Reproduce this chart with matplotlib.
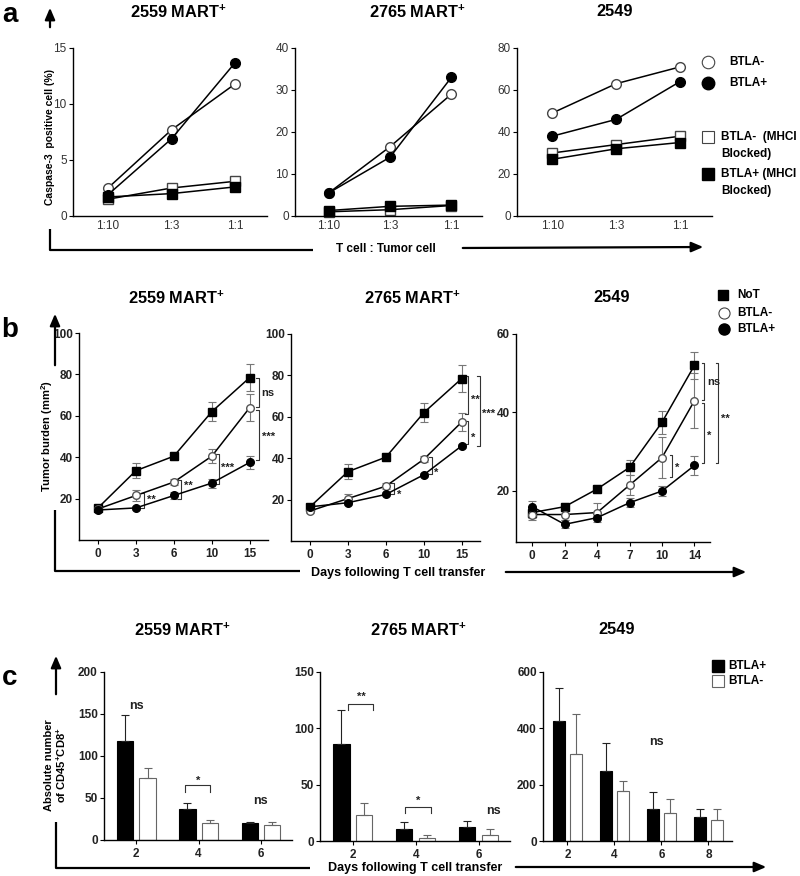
import matplotlib.pyplot as plt
import numpy as np

plt.rcParams["font.family"] = ["Liberation Sans", "DejaVu Sans"]
plt.rcParams["mathtext.fontset"] = "custom"
plt.rcParams["mathtext.rm"] = "Liberation Sans"
plt.rcParams["mathtext.bf"] = "Liberation Sans:bold"
plt.rcParams["axes.linewidth"] = 1.0

W, H = 800, 876
TICK_FONT = ["Liberation Sans Narrow", "Liberation Sans", "DejaVu Sans"]

# ---- panel a: caspase-3 positive cells vs T cell : tumor cell ratio
ratios = ["1:10", "1:3", "1:1"]
a2559_neg = [2.5, 7.7, 11.8]
a2559_pos = [1.9, 6.9, 13.7]
a2559_neg_blk = [1.5, 2.5, 3.1]
a2559_pos_blk = [1.7, 2.0, 2.6]
a2765_neg = [5.5, 16.5, 29.0]
a2765_pos = [5.5, 14.0, 33.0]
a2765_neg_blk = [1.0, 1.5, 2.5]
a2765_pos_blk = [1.3, 2.3, 2.6]
a2549_neg = [49, 63, 71]
a2549_pos = [38, 46, 64]
a2549_neg_blk = [30, 34, 38]
a2549_pos_blk = [27, 32, 35]

# ---- panel b: tumor burden (mm2)
b_days_mart = ["0", "3", "6", "10", "15"]
b_days_2549 = ["0", "2", "4", "7", "10", "14"]
b2559_not = [15.5, 33.5, 40.5, 62.0, 78.5]
b2559_not_err = [0.8, 3.5, 2.0, 4.5, 6.5]
b2559_neg = [15.0, 21.5, 28.0, 40.5, 64.0]
b2559_neg_err = [1.0, 2.5, 1.5, 3.5, 6.5]
b2559_pos = [14.5, 15.5, 21.5, 27.5, 37.5]
b2559_pos_err = [1.0, 1.0, 1.5, 2.2, 3.0]
b2765_not = [16.5, 33.5, 40.5, 62.0, 78.5]
b2765_not_err = [1.0, 3.5, 2.0, 4.5, 6.5]
b2765_neg = [14.5, 20.5, 26.5, 39.5, 57.5]
b2765_neg_err = [1.0, 2.0, 1.5, 1.5, 4.5]
b2765_pos = [16.5, 18.5, 22.5, 32.0, 46.0]
b2765_pos_err = [1.0, 1.0, 1.0, 1.0, 1.0]
b2549_not = [14.5, 16.0, 20.5, 26.0, 37.5, 52.0]
b2549_not_err = [1.5, 1.0, 1.0, 2.0, 3.0, 3.5]
b2549_neg = [14.0, 14.0, 14.5, 21.5, 28.5, 43.0]
b2549_neg_err = [1.5, 1.5, 2.5, 2.5, 5.2, 7.0]
b2549_pos = [16.0, 11.5, 13.2, 17.0, 20.0, 26.5]
b2549_pos_err = [1.5, 1.0, 0.5, 1.2, 1.2, 2.5]

# ---- panel c: absolute number of CD45+CD8+
c_days_mart = ["2", "4", "6"]
c_days_2549 = ["2", "4", "6", "8"]
c2559_pos = [118, 37, 20]
c2559_pos_err = [31, 7, 1.5]
c2559_neg = [74, 20, 18]
c2559_neg_err = [12, 4, 3.5]
c2765_pos = [86, 11, 12]
c2765_pos_err = [30, 6, 5.5]
c2765_neg = [23, 3, 5]
c2765_neg_err = [11, 2.5, 6]
c2549_pos = [425, 248, 115, 85]
c2549_pos_err = [118, 100, 58, 30]
c2549_neg = [310, 178, 100, 73]
c2549_neg_err = [140, 36, 50, 40]

fig = plt.figure(figsize=(W / 100, H / 100), dpi=100)


def px_axes(x0, x1, y0, y1):
    return fig.add_axes([x0 / W, 1 - y1 / H, (x1 - x0) / W, (y1 - y0) / H])


def style_axes(ax, weight, color, xtick_len):
    ax.spines[["top", "right"]].set_visible(False)
    ax.patch.set_visible(False)
    ax.tick_params(axis="y", direction="out", length=3, width=0.8,
                   labelsize=8.5, pad=1.5, labelcolor=color)
    ax.tick_params(axis="x", direction="out", length=xtick_len, width=0.8,
                   labelsize=8.5, pad=3, labelcolor=color)
    for lab in ax.get_xticklabels() + ax.get_yticklabels():
        lab.set_fontweight(weight)
        lab.set_family(TICK_FONT)


# panel a
a_axes = [px_axes(73, 267, 48, 216), px_axes(295, 482, 48, 216), px_axes(517, 712, 48, 216)]
a_sets = [
    (a2559_neg, a2559_pos, a2559_neg_blk, a2559_pos_blk, 15, 5),
    (a2765_neg, a2765_pos, a2765_neg_blk, a2765_pos_blk, 40, 10),
    (a2549_neg, a2549_pos, a2549_neg_blk, a2549_pos_blk, 80, 20),
]
for ax, (neg, pos, negb, posb, ymax, step) in zip(a_axes, a_sets):
    x = np.arange(len(ratios))
    ax.plot(x, negb, "-s", color="k", mfc="white", mec="#444", ms=6.5, lw=1.1, clip_on=False)
    ax.plot(x, posb, "-s", color="k", mfc="k", mec="k", ms=6.5, lw=1.1, clip_on=False)
    ax.plot(x, neg, "-o", color="k", mfc="white", mec="#444", ms=7, lw=1.1, clip_on=False)
    ax.plot(x, pos, "-o", color="k", mfc="k", mec="k", ms=7, lw=1.1, clip_on=False)
    ax.set_xlim(-0.55, 2.5)
    ax.set_ylim(0, ymax)
    ax.set_yticks(np.arange(0, ymax + 1, step))
    ax.set_xticks(x, ratios)
    style_axes(ax, "normal", "#333", 0)

# panel b
b_axes = [px_axes(79, 268, 333, 540), px_axes(291, 480, 334, 541), px_axes(516, 710, 334, 542)]
b_sets = [
    (b_days_mart, (b2559_not, b2559_not_err), (b2559_neg, b2559_neg_err), (b2559_pos, b2559_pos_err),
     (0, 100), [20, 40, 60, 80, 100]),
    (b_days_mart, (b2765_not, b2765_not_err), (b2765_neg, b2765_neg_err), (b2765_pos, b2765_pos_err),
     (0, 100), [20, 40, 60, 80, 100]),
    (b_days_2549, (b2549_not, b2549_not_err), (b2549_neg, b2549_neg_err), (b2549_pos, b2549_pos_err),
     (7, 60), [20, 40, 60]),
]
# significance brackets: (x, y top, y bottom, label, label y)
b_brackets = [
    [(1.21, 22.6, 15.4, "**", 19.5), (2.20, 28.9, 19.7, "**", 26.0), (3.18, 41.4, 27.0, "***", 35.0),
     (4.24, 78.5, 64.3, "ns", 71.0), (4.24, 62.6, 38.5, "***", 50.0)],
    [(2.21, 28.0, 22.7, "*", 22.5), (3.21, 40.6, 32.4, "*", 33.0), (4.16, 79.7, 61.3, "**", 68.0),
     (4.16, 58.0, 46.9, "*", 50.0), (4.47, 79.7, 45.9, "***", 61.5)],
    [(4.32, 29.2, 23.6, "*", 26.0), (5.31, 52.6, 43.2, "ns", 47.7), (5.31, 42.4, 27.1, "*", 34.0),
     (5.74, 52.6, 27.1, "**", 38.3)],
]
for ax, (days, s_not, s_neg, s_pos, ylim, yticks), brks in zip(b_axes, b_sets, b_brackets):
    x = np.arange(len(days))
    for (vals, err), marker, mfc, mec in [(s_not, "s", "k", "k"), (s_neg, "o", "white", "#555"),
                                          (s_pos, "o", "k", "k")]:
        ax.errorbar(x, vals, yerr=err, fmt="-" + marker, color="k", mfc=mfc, mec=mec, ms=5.5,
                    lw=1.1, ecolor="#777", elinewidth=0.8, capsize=3, capthick=0.8)
    for bx, y0, y1, lab, ly in brks:
        ax.plot([bx - 0.08, bx, bx, bx - 0.08], [y0, y0, y1, y1], color="#333", lw=0.8, clip_on=False)
        ax.text(bx + 0.07, ly, lab, ha="left", va="center", fontsize=8, fontweight="bold", color="#222")
    ax.set_xlim(-0.5, len(days) - 0.52)
    ax.set_ylim(*ylim)
    ax.set_yticks(yticks)
    ax.set_xticks(x, days)
    style_axes(ax, "bold", "#222", 3)

# panel c
c_axes = [px_axes(104, 292, 672, 840), px_axes(320, 510, 672, 841), px_axes(543, 732, 672, 841)]
c_sets = [
    (c_days_mart, (c2559_pos, c2559_pos_err), (c2559_neg, c2559_neg_err), 200, 50),
    (c_days_mart, (c2765_pos, c2765_pos_err), (c2765_neg, c2765_neg_err), 150, 50),
    (c_days_2549, (c2549_pos, c2549_pos_err), (c2549_neg, c2549_neg_err), 600, 200),
]
# (x0, x1, y, drop to, label, label y)
c_brackets = [
    [(0.78, 1.19, 65, 57, "*", 71)],
    [(-0.07, 0.33, 122, 116, "**", 128), (0.83, 1.24, 30, 25, "*", 35.5)],
    [],
]
c_ns = [[(0, 160), (2, 46)], [(2.24, 27)], [(1.9, 350)]]
for ax, (days, (pos, pos_err), (neg, neg_err), ymax, step), brks, nss in zip(c_axes, c_sets, c_brackets, c_ns):
    x = np.arange(len(days))
    zeros = np.zeros(len(days))
    ax.bar(x - 0.18, pos, 0.26, color="k", edgecolor="k", lw=0.8)
    ax.errorbar(x - 0.18, pos, yerr=[zeros, pos_err], fmt="none", ecolor="#222",
                elinewidth=0.8, capsize=3, capthick=0.8)
    ax.bar(x + 0.18, neg, 0.26, color="white", edgecolor="#666", lw=0.8)
    ax.errorbar(x + 0.18, neg, yerr=[zeros, neg_err], fmt="none", ecolor="#666",
                elinewidth=0.8, capsize=3, capthick=0.8)
    for x0, x1, y, yd, lab, ly in brks:
        ax.plot([x0, x0, x1, x1], [yd, y, y, yd], color="#333", lw=0.8)
        ax.text((x0 + x1) / 2, ly, lab, ha="center", va="center", fontsize=8, fontweight="bold", color="#222")
    for nx, ny in nss:
        ax.text(nx, ny, "ns", ha="center", va="center", fontsize=9, fontweight="bold", color="#222")
    ax.set_xlim(-0.52, len(days) - 0.5)
    ax.set_ylim(0, ymax)
    ax.set_yticks(np.arange(0, ymax + 1, step))
    ax.set_xticks(x, days)
    style_axes(ax, "bold", "#222", 3)

# overlay in pixel coordinates for titles, arrows, legends
ov = fig.add_axes([0, 0, 1, 1])
ov.set_xlim(0, W)
ov.set_ylim(H, 0)
ov.axis("off")
ov.patch.set_visible(False)

for lab, y in [("a", 15), ("b", 330), ("c", 678)]:
    ov.text(10, y, lab, fontsize=20, fontweight="bold", ha="center", va="center")

titles = [r"2559 MART$^{\mathbf{+}}$", r"2765 MART$^{\mathbf{+}}$", "2549"]
for row_y, xs in [(12, (178, 417, 615)), (298, (176, 412, 612)), (630, (182, 418, 617))]:
    for t, tx in zip(titles, xs):
        ov.text(tx, row_y, t, fontsize=11.8, fontweight="bold", ha="center", va="center")

arrow_kw = dict(arrowstyle="-|>,head_length=0.7,head_width=0.3", color="k", lw=1.6)
line_kw = dict(color="k", lw=1.6, solid_capstyle="butt")

# panel a axes decorations
ov.annotate("", xy=(50, 5), xytext=(50, 30), arrowprops=arrow_kw)
ov.plot([50, 50, 313], [229, 250, 250], **line_kw)
ov.text(386, 249, "T cell : Tumor cell", fontsize=8.5, fontweight="bold", ha="center", va="center")
ov.annotate("", xy=(706, 247), xytext=(460, 248), arrowprops=arrow_kw)
ov.text(50, 137, "Caspase-3  positive cell (%)", rotation=90, fontsize=7.5, fontweight="bold",
        ha="center", va="center")

# panel b axes decorations
ov.annotate("", xy=(55, 311), xytext=(55, 368), arrowprops=arrow_kw)
ov.plot([55, 55, 300], [510, 571, 571], **line_kw)
ov.text(398, 573, "Days following T cell transfer", fontsize=9, fontweight="bold", ha="center", va="center")
ov.annotate("", xy=(749, 572), xytext=(503, 572), arrowprops=arrow_kw)
ov.text(47, 436, r"Tumor burden (mm$^{\mathbf{2}}$)", rotation=90, fontsize=8, fontweight="bold",
        ha="center", va="center")

# panel c axes decorations
ov.annotate("", xy=(56, 653), xytext=(56, 697), arrowprops=arrow_kw)
ov.plot([56, 56, 310], [822, 868, 868], **line_kw)
ov.text(415, 868, "Days following T cell transfer", fontsize=9, fontweight="bold", ha="center", va="center")
ov.annotate("", xy=(769, 867), xytext=(513, 867), arrowprops=arrow_kw)
ov.text(56, 765, "Absolute number\nof CD45$^{\\mathbf{+}}$CD8$^{\\mathbf{+}}$", rotation=90, fontsize=8,
        fontweight="bold", ha="center", va="center", linespacing=1.1)

# legends
leg_kw = dict(fontsize=8.5, fontweight="bold", va="center", ha="left")
ov.plot(708, 62, "o", ms=9, mfc="white", mec="#444", mew=0.8)
ov.text(729, 62, "BTLA-", **leg_kw)
ov.plot(708, 83, "o", ms=9, mfc="k", mec="k")
ov.text(729, 83, "BTLA+", **leg_kw)
ov.plot(708, 137, "s", ms=8.5, mfc="white", mec="#444", mew=0.8)
ov.text(721, 137, "BTLA-  (MHCI", **leg_kw)
ov.text(721, 154, "Blocked)", **leg_kw)
ov.plot(708, 174, "s", ms=8.5, mfc="k", mec="k")
ov.text(721, 174, "BTLA+ (MHCI", **leg_kw)
ov.text(721, 191, "Blocked)", **leg_kw)

ov.plot(723, 295, "s", ms=7.5, mfc="k", mec="k")
ov.text(737, 295, "NoT", **leg_kw)
ov.plot(724, 313, "o", ms=8, mfc="white", mec="#444", mew=0.8)
ov.text(737, 313, "BTLA-", **leg_kw)
ov.plot(724, 329, "o", ms=8, mfc="k", mec="k")
ov.text(737, 329, "BTLA+", **leg_kw)

ov.plot(718, 666, "s", ms=8.5, mfc="k", mec="k")
ov.text(728, 666, "BTLA+", **leg_kw)
ov.plot(718, 681, "s", ms=8.5, mfc="white", mec="#666", mew=0.8)
ov.text(728, 681, "BTLA-", **leg_kw)

fig.savefig("out.png", dpi=100)
